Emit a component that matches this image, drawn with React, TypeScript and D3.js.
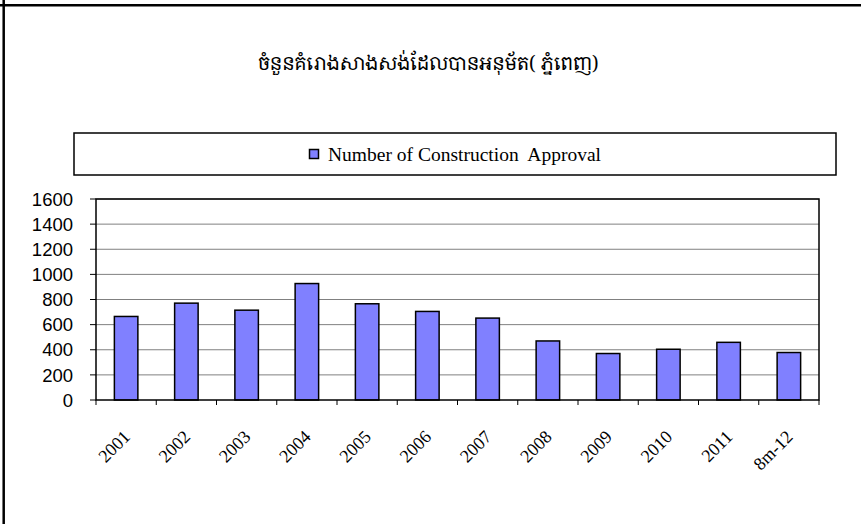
import * as d3 from "d3";

const categories = ["2001", "2002", "2003", "2004", "2005", "2006", "2007", "2008", "2009", "2010", "2011", "8m-12"];
const approvals = [665, 771, 715, 927, 766, 705, 652, 470, 370, 404, 459, 378];
const yTicks = [0, 200, 400, 600, 800, 1000, 1200, 1400, 1600];

const title = "ចំនួនគំរោងសាងសង់ដែលបានអនុម័ត( ភ្នំពេញ)";
const seriesName = "Number of Construction  Approval";

const W = 861;
const H = 524;
const plot = { left: 96, top: 199, right: 819, bottom: 400 };
const barFill = "#8080FF";

export default function App() {
  const x = d3
    .scaleBand<string>()
    .domain(categories)
    .range([plot.left, plot.right])
    .paddingInner(0.61)
    .paddingOuter(0.305);
  const y = d3.scaleLinear().domain([0, 1600]).range([plot.bottom, plot.top]);
  const step = x.step();
  const bounds = d3.range(categories.length + 1).map((i) => plot.left + i * step);

  return (
    <div style={{ position: "absolute", left: 0, top: 0 }}>
      <svg width={W} height={H} style={{ display: "block", background: "#fff" }}>
        {/* outer frame */}
        <line x1={0} x2={W} y1={5.3} y2={5.3} stroke="#000" strokeWidth={2.5} />
        <line x1={3.7} x2={3.7} y1={0} y2={H} stroke="#000" strokeWidth={2.5} />

        <text
          x={428}
          y={70}
          textAnchor="middle"
          fontFamily="'Khmer OS', 'Noto Serif Khmer', 'Noto Sans Khmer', 'DejaVu Sans', serif"
          fontSize={19}
          fill="#000"
        >
          {title}
        </text>

        {/* legend */}
        <rect x={74} y={133} width={762} height={42} fill="#fff" stroke="#000" strokeWidth={1.5} />
        <rect x={309.5} y={149.5} width={9} height={9} fill={barFill} stroke="#000" strokeWidth={1.5} />
        <text x={328} y={161} fontFamily="'Liberation Serif', 'Times New Roman', serif" fontSize={19.5} fill="#000" style={{ whiteSpace: "pre" }}>
          {seriesName}
        </text>

        {/* grid */}
        {yTicks.slice(1).map((t) => (
          <line key={t} x1={plot.left} x2={plot.right} y1={y(t)} y2={y(t)} stroke="#808080" strokeWidth={1} />
        ))}

        {/* bars */}
        {categories.map((c, i) => (
          <rect
            key={c}
            x={x(c)}
            y={y(approvals[i])}
            width={x.bandwidth()}
            height={y(0) - y(approvals[i])}
            fill={barFill}
            stroke="#000"
            strokeWidth={1.5}
          />
        ))}

        {/* plot border */}
        <rect
          x={plot.left}
          y={plot.top}
          width={plot.right - plot.left}
          height={plot.bottom - plot.top}
          fill="none"
          stroke="#000"
          strokeWidth={1.5}
        />

        {/* y axis */}
        {yTicks.map((t) => (
          <g key={t}>
            <line x1={plot.left - 6} x2={plot.left} y1={y(t)} y2={y(t)} stroke="#000" strokeWidth={1} />
            <text
              x={73}
              y={y(t)}
              dy="0.36em"
              textAnchor="end"
              fontFamily="'Liberation Sans', Arial, sans-serif"
              fontSize={18.5}
              fill="#000"
            >
              {t}
            </text>
          </g>
        ))}

        {/* x axis */}
        {bounds.map((b, i) => (
          <line key={i} x1={b} x2={b} y1={plot.bottom} y2={plot.bottom + 5} stroke="#000" strokeWidth={1} />
        ))}
        {categories.map((c) => {
          const cx = (x(c) ?? 0) + x.bandwidth() / 2 + 5;
          const cy = 438;
          return (
            <text
              key={c}
              x={cx}
              y={cy}
              textAnchor="end"
              transform={`rotate(-45, ${cx}, ${cy})`}
              fontFamily="'Liberation Serif', 'Times New Roman', serif"
              fontSize={18}
              fill="#000"
            >
              {c}
            </text>
          );
        })}
      </svg>
    </div>
  );
}
